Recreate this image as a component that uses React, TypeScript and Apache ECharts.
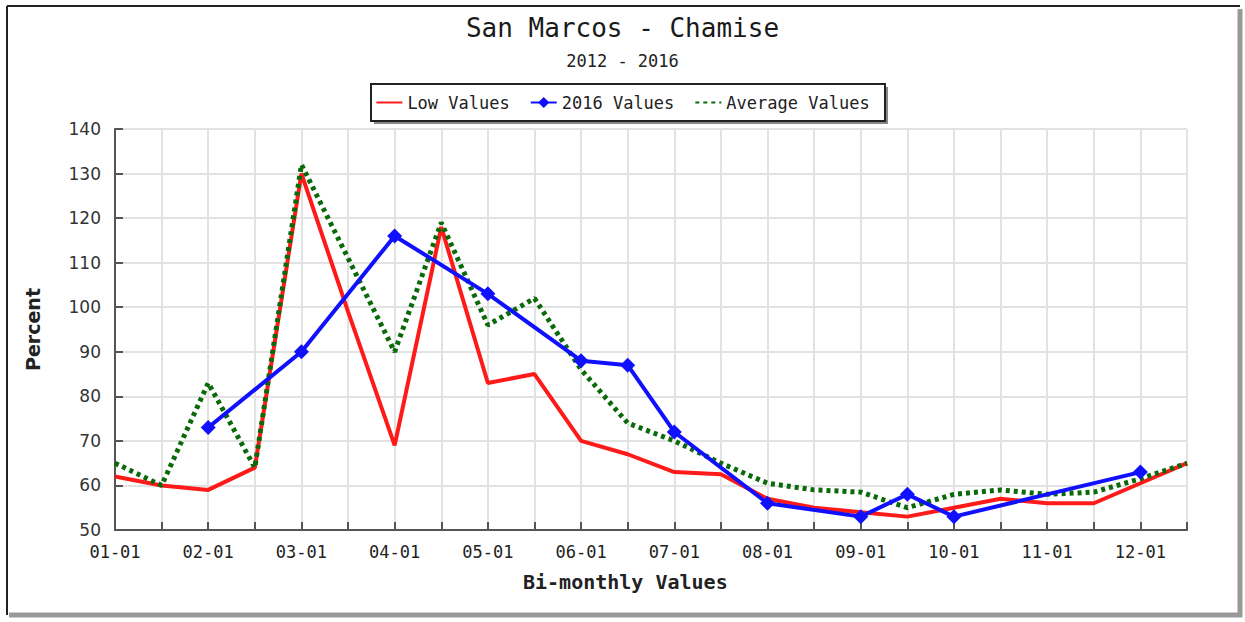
import React, { useEffect, useRef } from "react";
import * as echarts from "echarts";

const categories = [
  "01-01", "01-15", "02-01", "02-15", "03-01", "03-15", "04-01", "04-15",
  "05-01", "05-15", "06-01", "06-15", "07-01", "07-15", "08-01", "08-15",
  "09-01", "09-15", "10-01", "10-15", "11-01", "11-15", "12-01", "12-15",
];

const lowValues = [
  62, 60, 59, 64, 130, 99, 69, 118, 83, 85, 70, 67, 63, 62.5, 57, 55, 54, 53,
  55, 57, 56, 56, 60.5, 65,
];

const values2016 = [
  null, null, 73, null, 90, null, 116, null, 103, null, 88, 87, 72, null, 56,
  null, 53, 58, 53, null, null, null, 63, null,
];

const averageValues = [
  65, 60, 83, 64, 132, 111, 90, 119, 96, 102, 86, 74, 70, 65, 60.5, 59, 58.5,
  55, 58, 59, 58, 58.5, 61.5, 65,
];

const yTicks = { min: 50, max: 140, interval: 10 };

const MONO = "DejaVu Sans Mono";
const SANS = "DejaVu Sans";

export default function App() {
  const ref = useRef<HTMLDivElement>(null);

  useEffect(() => {
    if (!ref.current) return;
    const chart = echarts.init(ref.current, null, { renderer: "svg" });
    chart.setOption({
      animation: false,
      backgroundColor: "#ffffff",
      title: [
        {
          text: "San Marcos - Chamise",
          left: "center",
          top: 10,
          textStyle: { fontFamily: MONO, fontSize: 26, fontWeight: "normal", color: "#1a1a1a" },
        },
        {
          text: "2012 - 2016",
          left: "center",
          top: 47,
          textStyle: { fontFamily: MONO, fontSize: 17, fontWeight: "normal", color: "#222" },
        },
      ],
      legend: {
        data: [
          { name: "Low Values", itemStyle: { opacity: 0 } },
          { name: "2016 Values" },
          { name: "Average Values", itemStyle: { opacity: 0 } },
        ],
        left: "center",
        top: 94,
        padding: 0,
        itemGap: 20,
        itemWidth: 26,
        itemHeight: 14,
        textStyle: { fontFamily: MONO, fontSize: 17, color: "#222" },
      },
      graphic: [
        { type: "rect", z: -10, shape: { x: 0, y: 0, width: 1245, height: 622 }, style: { fill: "#fff" }, silent: true },
        { type: "line", z: 10, shape: { x1: 1240, y1: 9, x2: 1240, y2: 617 }, style: { stroke: "#999", lineWidth: 5 }, silent: true },
        { type: "line", z: 10, shape: { x1: 9, y1: 615, x2: 1242, y2: 615 }, style: { stroke: "#999", lineWidth: 5 }, silent: true },
        { type: "line", z: 10, shape: { x1: 7, y1: 6, x2: 1240, y2: 6 }, style: { stroke: "#222", lineWidth: 2 }, silent: true },
        { type: "line", z: 10, shape: { x1: 7, y1: 6, x2: 7, y2: 615 }, style: { stroke: "#222", lineWidth: 2 }, silent: true },
        { type: "rect", z: 1, shape: { x: 374, y: 87, width: 514, height: 37 }, style: { fill: "#888" }, silent: true },
        { type: "rect", z: 2, shape: { x: 371, y: 84, width: 514, height: 37 }, style: { fill: "#fff", stroke: "#222", lineWidth: 2 }, silent: true },
        {
          type: "text",
          left: 628 - 105,
          top: 572,
          style: { text: "Bi-monthly Values", font: `bold 20px '${MONO}'`, fill: "#222" },
          silent: true,
        },
      ],
      grid: { left: 115, top: 129, right: 58, bottom: 92 },
      xAxis: {
        type: "category",
        data: categories,
        boundaryGap: false,
        axisLine: { lineStyle: { color: "#555", width: 2 } },
        axisTick: { inside: true, length: 8, interval: 0, lineStyle: { color: "#555", width: 2 } },
        axisLabel: {
          interval: 1,
          margin: 13,
          fontFamily: MONO,
          fontSize: 17,
          color: "#222",
        },
        splitLine: { show: true, interval: 0, lineStyle: { color: "#e2e2e2", width: 2 } },
      },
      yAxis: {
        type: "value",
        min: yTicks.min,
        max: yTicks.max,
        interval: yTicks.interval,
        name: "Percent",
        nameLocation: "middle",
        nameRotate: 90,
        nameGap: 73,
        nameTextStyle: { fontFamily: SANS, fontSize: 19, fontWeight: "bold", color: "#222" },
        axisLine: { show: true, lineStyle: { color: "#555", width: 2 } },
        axisTick: { show: true, inside: true, length: 8, lineStyle: { color: "#555", width: 2 } },
        axisLabel: { margin: 14, fontFamily: SANS, fontSize: 17, color: "#333" },
        splitLine: { show: true, lineStyle: { color: "#e2e2e2", width: 2 } },
      },
      series: [
        {
          name: "Low Values",
          type: "line",
          data: lowValues,
          symbol: "none",
          lineStyle: { color: "#ff1a1a", width: 4 },
          itemStyle: { color: "#ff1a1a" },
          z: 2,
        },
        {
          name: "Average Values",
          type: "line",
          data: averageValues,
          symbol: "none",
          lineStyle: { color: "#0a6a0a", width: 5, type: [4, 4] },
          itemStyle: { color: "#0a6a0a" },
          z: 3,
        },
        {
          name: "2016 Values",
          type: "line",
          data: values2016,
          connectNulls: true,
          symbol: "diamond",
          symbolSize: 15,
          showAllSymbol: true,
          lineStyle: { color: "#1010ff", width: 4 },
          itemStyle: { color: "#1010ff" },
          z: 4,
        },
      ],
    });
    return () => chart.dispose();
  }, []);

  return (
    <div
      ref={ref}
      style={{ position: "fixed", left: 0, top: 0, width: 1245, height: 622 }}
    />
  );
}
